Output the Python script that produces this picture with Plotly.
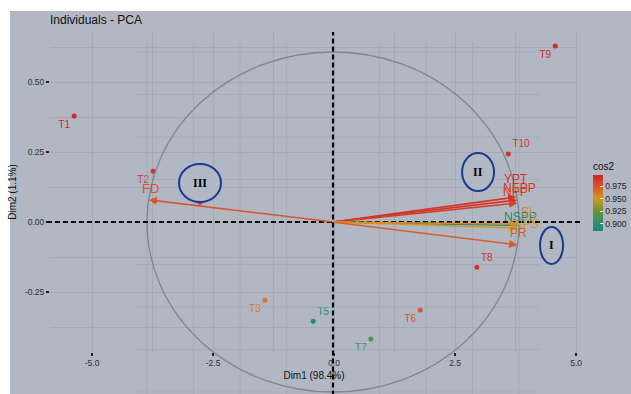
import plotly.graph_objects as go
from plotly.colors import sample_colorscale

# ---------------- data ----------------
ind_names = ["T1", "T2", "T3", "T4", "T5", "T6", "T7", "T8", "T9", "T10"]
ind_dim1 = [-5.37, -3.74, -1.43, -2.77, -0.43, 1.78, 0.76, 2.95, 4.57, 3.60]
ind_dim2 = [0.379, 0.182, -0.279, 0.071, -0.354, -0.314, -0.418, -0.161, 0.629, 0.243]
ind_cos2 = [0.995, 0.99, 0.963, 0.99, 0.888, 0.976, 0.915, 0.99, 0.995, 0.99]

var_names = ["FD", "YPT", "NEPP", "NPP", "NSPP", "SL", "NPS", "PR"]
var_dim1 = [-0.99, 0.985, 0.99, 0.99, 0.995, 0.995, 0.995, 0.99]
var_dim2 = [0.13, 0.147, 0.129, 0.112, -0.02, -0.012, -0.035, -0.135]
var_cos2 = [0.975, 0.99, 0.99, 0.985, 0.89, 0.955, 0.95, 0.972]

x_ticks = [-5.0, -2.5, 0.0, 2.5, 5.0]
y_ticks = [-0.25, 0.0, 0.25, 0.50]
cbar_ticks = [0.900, 0.925, 0.950, 0.975]

title_text = "Individuals - PCA"
x_title = "Dim1 (98.4%)"
y_title = "Dim2 (1.1%)"

# ---------------- styles ----------------
BG = "#b1b8c3"
GRID = "#a4abb7"
CMIN, CMAX = 0.885, 0.998
SCALE = [[0.0, "#13898c"], [0.33, "#5f9436"], [0.58, "#d49520"],
         [0.8, "#d9552a"], [1.0, "#cf2226"]]


def col(v):
    t = min(max((v - CMIN) / (CMAX - CMIN), 0), 1)
    return sample_colorscale(SCALE, [t])[0]


ind_colors = [col(v) for v in ind_cos2]
var_colors = [col(v) for v in var_cos2]
ind_textpos = ["bottom left", "bottom left", "bottom left", "top right", "top right",
               "bottom left", "bottom left", "top right", "bottom left", "top right"]
# label offsets (px) of variable names relative to arrow tips
var_label_shift = {"FD": (2, 11), "YPT": (0, 18), "NEPP": (2, 12), "NPP": (-2, 11),
                   "NSPP": (2, 8), "SL": (10, 12), "NPS": (8, 4), "PR": (1, 12)}

W, H = 631, 394
L, T = 10, 11
PW, PH = W - L, H - T


def px2xp(px):
    return (px - L) / PW


def py2yp(py):
    return (H - py) / PH


fig = go.Figure()

fig.add_trace(go.Scatter(
    x=ind_dim1, y=ind_dim2, mode="markers+text", text=ind_names,
    textposition=ind_textpos, cliponaxis=False,
    textfont=dict(size=10, color=ind_colors, family="Liberation Sans"),
    marker=dict(size=5, color=ind_cos2, coloraxis="coloraxis"),
    xaxis="x", yaxis="y", showlegend=False, hoverinfo="skip"))

# invisible trace on variable axes to keep them active
fig.add_trace(go.Scatter(x=[0], y=[0], mode="markers", marker=dict(size=1, opacity=0),
                         xaxis="x2", yaxis="y2", showlegend=False, hoverinfo="skip"))

shapes = []
# grey panel background
shapes.append(dict(type="rect", xref="paper", yref="paper", x0=0, x1=1, y0=0, y1=1,
                   fillcolor=BG, line=dict(width=0), layer="below"))
# variable-plot grid
g = [-1 + 0.25 * i for i in range(9)]
for v in g:
    shapes.append(dict(type="line", xref="x2", yref="y2", x0=v, x1=v, y0=-1.02, y1=1.06,
                       line=dict(color=GRID, width=0.9), layer="below"))
    shapes.append(dict(type="line", xref="x2", yref="y2", x0=-1.06, x1=1.11, y0=v, y1=v,
                       line=dict(color=GRID, width=0.9), layer="below"))
# correlation circle
shapes.append(dict(type="circle", xref="x2", yref="y2", x0=-1, x1=1, y0=-1, y1=1,
                   line=dict(color="#80858e", width=1.3)))
# dashed reference lines
shapes.append(dict(type="line", xref="x2", yref="y2", x0=0, x1=0, y0=-1.02, y1=1.118,
                   line=dict(color="black", width=2.2, dash="5px,3px")))
shapes.append(dict(type="line", xref="x2", yref="y2", x0=-1.538, x1=1.328, y0=0, y1=0,
                   line=dict(color="black", width=2.2, dash="5px,3px")))
fig.update_layout(shapes=shapes)

ann = []
for n, xv, yv, c in zip(var_names, var_dim1, var_dim2, var_colors):
    ann.append(dict(x=xv, y=yv, ax=0, ay=0, xref="x2", yref="y2", axref="x2", ayref="y2",
                    showarrow=True, arrowhead=2, arrowsize=1, arrowwidth=1.6,
                    arrowcolor=c, text="", standoff=0))
for n, xv, yv, c in zip(var_names, var_dim1, var_dim2, var_colors):
    dx, dy = var_label_shift[n]
    ann.append(dict(x=xv, y=yv, xref="x2", yref="y2", text=n, showarrow=False,
                    xshift=dx, yshift=dy,
                    font=dict(size=13 if n == "FD" else 12, color=c, family="Liberation Sans")))

# region ellipses (I, II, III) drawn above everything
regions = [("III", -0.828, -0.602, 0.118, 0.341),
           ("II", 0.694, 0.866, 0.182, 0.406),
           ("I", 1.113, 1.237, -0.247, -0.029)]
for lab, x0, x1, y0, y1 in regions:
    fig.add_shape(type="circle", xref="x2", yref="y2", x0=x0, x1=x1, y0=y0, y1=y1,
                  line=dict(color="#1d3a8f", width=2), fillcolor=BG,
                  layer="above")
    ann.append(dict(x=(x0 + x1) / 2, y=(y0 + y1) / 2, xref="x2", yref="y2", text="<b>%s</b>" % lab,
                    showarrow=False, font=dict(size=12, color="black",
                                               family="Liberation Serif")))
fig.update_layout(annotations=ann)

fig.update_layout(
    width=W, height=H, template="none",
    paper_bgcolor="white", plot_bgcolor="rgba(0,0,0,0)",
    margin=dict(l=L, r=0, t=T, b=0, autoexpand=False),
    title=dict(text=title_text, x=px2xp(50), xanchor="left", xref="paper",
               y=1 - 20 / H, yanchor="middle",
               font=dict(size=12, color="#111", family="Liberation Sans")),
    font=dict(family="Liberation Sans"),
    xaxis=dict(domain=[px2xp(50), px2xp(578)], range=[-5.87, 5.04], anchor="y",
               tickvals=x_ticks, ticktext=["%.1f" % v for v in x_ticks],
               showgrid=True, gridcolor=GRID, gridwidth=1, zeroline=False, showline=False,
               minor=dict(dtick=1.25, tick0=0, showgrid=True, gridcolor=GRID, gridwidth=0.7),
               ticks="outside", ticklen=3, tickwidth=1.5, tickcolor="#222",
               tickfont=dict(size=8.5, color="#333"),
               title=dict(text=x_title, standoff=4, font=dict(size=10, color="#111")),
               automargin=False),
    yaxis=dict(domain=[py2yp(352), py2yp(32)], range=[-0.464, 0.679], anchor="x",
               tickvals=y_ticks, ticktext=["%.2f" % v for v in y_ticks],
               showgrid=True, gridcolor=GRID, gridwidth=1, zeroline=False, showline=False,
               minor=dict(dtick=0.125, tick0=0, showgrid=True, gridcolor=GRID, gridwidth=0.7),
               ticks="outside", ticklen=3, tickwidth=1.5, tickcolor="#222",
               tickfont=dict(size=8.5, color="#333"),
               title=dict(text=y_title, standoff=6, font=dict(size=10, color="#111")),
               automargin=False),
    xaxis2=dict(domain=[0, 1], range=[(10 - 333) / 186, (631 - 333) / 186], anchor="y2",
                visible=False, showgrid=False, zeroline=False),
    yaxis2=dict(domain=[0, 1], range=[(222 - 394) / 170, (222 - 11) / 170], anchor="x2",
                visible=False, showgrid=False, zeroline=False),
    coloraxis=dict(cmin=CMIN, cmax=CMAX, colorscale=SCALE,
                   colorbar=dict(x=px2xp(593), xanchor="left", xpad=0,
                                 y=py2yp(195), yanchor="middle", ypad=0,
                                 len=72, lenmode="pixels", thickness=10,
                                 outlinewidth=0, tickvals=cbar_ticks,
                                 ticktext=["%.3f" % v for v in cbar_ticks],
                                 ticks="inside", ticklen=3, tickcolor="white",
                                 tickfont=dict(size=8.5, color="#222"),
                                 title=dict(text="cos2", side="top",
                                            font=dict(size=10, color="#111")))),
)

fig.write_html("out.html", config={"displayModeBar": False},
               post_script="document.body.style.margin='0';")
